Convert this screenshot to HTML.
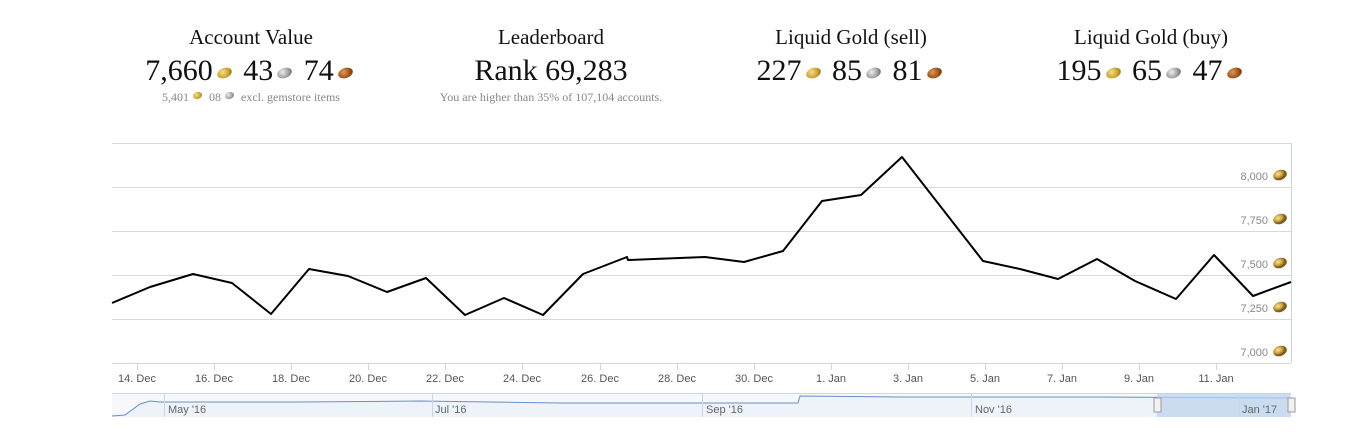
<!DOCTYPE html>
<html><head><meta charset="utf-8"><style>
body{margin:0;width:1351px;height:444px;background:#fff;font-family:"Liberation Serif",serif;position:relative;overflow:hidden}
.box{position:absolute;top:25px;width:300px;text-align:center;color:#111}
.t{font-size:21px;height:29px}
.v{font-size:30px;height:36px}
.s{font-size:12px;color:#888}
.c{display:inline-block;width:15px;height:10px;border-radius:50%;transform:rotate(-20deg);vertical-align:2px;margin:0 4px}
.g{background:radial-gradient(circle at 40% 35%,#f4e08a,#c89b25 60%,#6b4e10)}
.si{background:radial-gradient(circle at 40% 35%,#eee,#999 60%,#444)}
.b{background:radial-gradient(circle at 40% 35%,#e09a5a,#9a4d14 60%,#4a2005)}
.s .c{width:9px;height:7px}
</style></head><body>
<div class="box" style="left:101px"><div class="t">Account Value</div><div class="v">7,660<span class="c g"></span> 43<span class="c si"></span> 74<span class="c b"></span></div><div class="s">5,401<span class="c g"></span> 08<span class="c si"></span> excl. gemstore items</div></div>
<div class="box" style="left:401px"><div class="t">Leaderboard</div><div class="v">Rank 69,283</div><div class="s">You are higher than 35% of 107,104 accounts.</div></div>
<div class="box" style="left:701px"><div class="t">Liquid Gold (sell)</div><div class="v">227<span class="c g"></span> 85<span class="c si"></span> 81<span class="c b"></span></div></div>
<div class="box" style="left:1001px"><div class="t">Liquid Gold (buy)</div><div class="v">195<span class="c g"></span> 65<span class="c si"></span> 47<span class="c b"></span></div></div>
<svg width="1351" height="444" style="position:absolute;left:0;top:0" font-family="Liberation Sans, sans-serif" font-size="11">
<defs><radialGradient id="gc" cx="40%" cy="35%"><stop offset="0" stop-color="#f6e6a0"/><stop offset=".6" stop-color="#c9a340"/><stop offset="1" stop-color="#7a5a18"/></radialGradient></defs>
<g stroke="#d8d8d8"><line x1="112" x2="1291" y1="143.5" y2="143.5"/><line x1="112" x2="1291" y1="187.5" y2="187.5"/><line x1="112" x2="1291" y1="231.5" y2="231.5"/><line x1="112" x2="1291" y1="275.5" y2="275.5"/><line x1="112" x2="1291" y1="319.5" y2="319.5"/></g>
<line x1="1291.5" x2="1291.5" y1="143" y2="363" stroke="#ccd6eb"/>
<line x1="112" x2="1291" y1="363.5" y2="363.5" stroke="#ccd6eb"/>
<g fill="#888" text-anchor="end">
<text x="1268" y="180">8,000</text><text x="1268" y="224">7,750</text><text x="1268" y="268">7,500</text><text x="1268" y="312">7,250</text><text x="1268" y="356">7,000</text></g>
<g fill="url(#gc)"><ellipse cx="1280" cy="175" rx="7" ry="5" transform="rotate(-20 1280 175)"/><ellipse cx="1280" cy="219" rx="7" ry="5" transform="rotate(-20 1280 219)"/><ellipse cx="1280" cy="263" rx="7" ry="5" transform="rotate(-20 1280 263)"/><ellipse cx="1280" cy="307" rx="7" ry="5" transform="rotate(-20 1280 307)"/><ellipse cx="1280" cy="351" rx="7" ry="5" transform="rotate(-20 1280 351)"/></g>
<g stroke="#ccd6eb"><line x1="137.5" x2="137.5" y1="363" y2="370"/><line x1="214.5" x2="214.5" y1="363" y2="370"/><line x1="291.5" x2="291.5" y1="363" y2="370"/><line x1="368.5" x2="368.5" y1="363" y2="370"/><line x1="445.5" x2="445.5" y1="363" y2="370"/><line x1="522.5" x2="522.5" y1="363" y2="370"/><line x1="600.5" x2="600.5" y1="363" y2="370"/><line x1="677.5" x2="677.5" y1="363" y2="370"/><line x1="754.5" x2="754.5" y1="363" y2="370"/><line x1="831.5" x2="831.5" y1="363" y2="370"/><line x1="908.5" x2="908.5" y1="363" y2="370"/><line x1="985.5" x2="985.5" y1="363" y2="370"/><line x1="1062.5" x2="1062.5" y1="363" y2="370"/><line x1="1139.5" x2="1139.5" y1="363" y2="370"/><line x1="1216.5" x2="1216.5" y1="363" y2="370"/></g>
<g fill="#555" text-anchor="middle"><text x="137" y="382">14. Dec</text><text x="214" y="382">16. Dec</text><text x="291" y="382">18. Dec</text><text x="368" y="382">20. Dec</text><text x="445" y="382">22. Dec</text><text x="522" y="382">24. Dec</text><text x="600" y="382">26. Dec</text><text x="677" y="382">28. Dec</text><text x="754" y="382">30. Dec</text><text x="831" y="382">1. Jan</text><text x="908" y="382">3. Jan</text><text x="985" y="382">5. Jan</text><text x="1062" y="382">7. Jan</text><text x="1139" y="382">9. Jan</text><text x="1216" y="382">11. Jan</text></g>
<polyline fill="none" stroke="#000" stroke-width="2" stroke-linejoin="round" points="112,303 150,287 193,274 232,283 271,314 309,269 348,276 387,292 426,278 465,315 504,298 543,315 583,274 627,257 628,260 705,257 744,262 783,251 822,201 861,195 902,157 983,261 1020,269 1058,279 1097,259 1135,281 1176,299 1214,255 1253,296 1291,282"/>
<rect x="112" y="393" width="1179" height="24" fill="#f6f8fb"/>
<line x1="112" x2="1291" y1="393.5" y2="393.5" stroke="#ccd6eb"/>
<path d="M112,416 L125,415 L140,404 L150,401 L160,402 L300,402 L420,401 L560,403 L700,403 L798,403 L800,396 L900,397 L1100,397 L1291,398 L1291,417 L112,417Z" fill="#eef2f9"/>
<polyline fill="none" stroke="#6a8fc8" points="112,416 125,415 140,404 150,401 160,402 300,402 420,401 560,403 700,403 798,403 800,396 900,397 1100,397 1291,398"/>
<rect x="1157" y="393" width="134" height="24" fill="#bcd3ee" opacity=".7"/>
<g fill="#f2f2f2" stroke="#999"><rect x="1154" y="398" width="7" height="14"/><rect x="1288" y="398" width="7" height="14"/></g>
<g stroke="#ccd6eb"><line x1="164.5" x2="164.5" y1="393" y2="417"/><line x1="432.5" x2="432.5" y1="393" y2="417"/><line x1="702.5" x2="702.5" y1="393" y2="417"/><line x1="971.5" x2="971.5" y1="393" y2="417"/><line x1="1239.5" x2="1239.5" y1="393" y2="417"/></g>
<g fill="#666"><text x="168" y="413">May '16</text><text x="435" y="413">Jul '16</text><text x="706" y="413">Sep '16</text><text x="975" y="413">Nov '16</text><text x="1242" y="413">Jan '17</text></g>
</svg>
</body></html>
